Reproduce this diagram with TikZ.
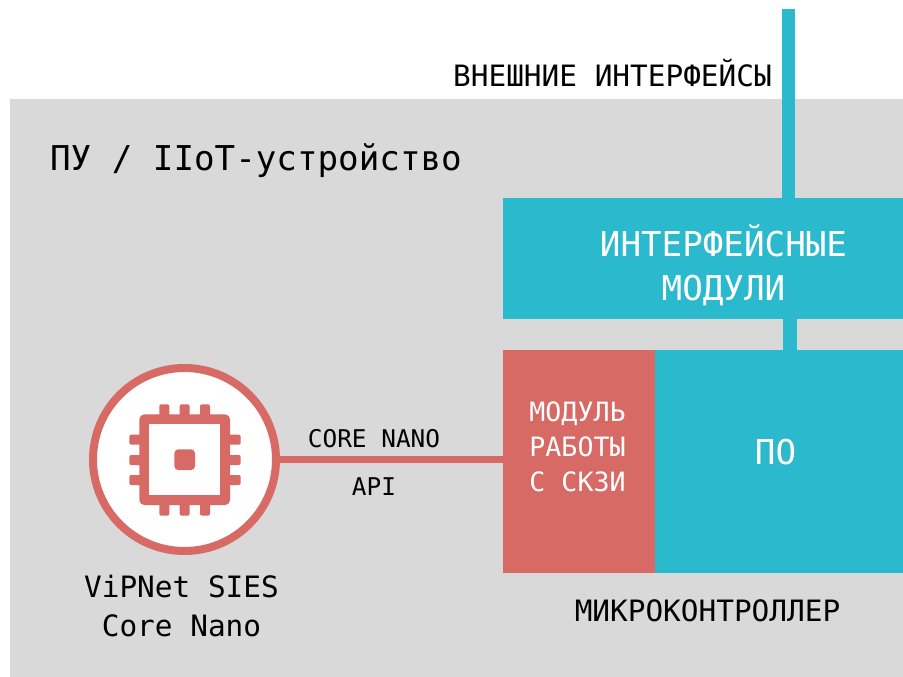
\documentclass[tikz,border=0pt]{standalone}
\usepackage{fontspec}
\setmonofont{DejaVu Sans Mono}
\definecolor{teal1}{HTML}{2BB9CD}
\definecolor{red1}{HTML}{D86A65}
\definecolor{grey1}{HTML}{D9D9D9}
\tikzset{
  x=1pt,y=-1pt,
  fs/.style 2 args={font=\fontsize{#1}{#2}\selectfont\ttfamily},
  box/.style={fill=#1,draw=none,anchor=north west,inner sep=0pt,outer sep=0pt},
  lbl/.style={inner sep=0pt,outer sep=0pt,align=center,text=#1},
  lbl/.default=black,
  tealline/.style={draw=teal1,line width=13.5pt},
  redline/.style={draw=red1,line width=7.5pt},
  pin/.style={fill=red1,draw=none,inner sep=0pt,outer sep=0pt}
}
\begin{document}
\begin{tikzpicture}
\useasboundingbox (0,0) rectangle (903,677);
\fill[white] (0,0) rectangle (903,677);
\node[box=grey1,minimum width=893pt,minimum height=578pt] (device) at (10,99) {};
\coordinate (ext) at (788.5,9);
\node[box=teal1,minimum width=400pt,minimum height=121pt] (intf) at (503,198) {};
\node[box=red1,minimum width=152pt,minimum height=223pt] (mod) at (503,350) {};
\node[box=teal1,minimum width=248pt,minimum height=223pt] (po) at (655,350) {};
\draw[tealline] (ext) -- (ext |- intf.north);
\coordinate (busa) at (790,319);
\draw[tealline] (busa) -- (busa |- po.north);
\node[circle,draw=red1,fill=white,line width=8pt,minimum size=183pt,inner sep=0pt,outer sep=4pt] (core) at (184.5,459.5) {};
\draw[redline] (core.east) -- (mod.west |- core.east);
% chip icon
\foreach \p in {164.3,184.7,205}{
  \fill[red1,rounded corners=2pt] (\p-5,404.3) rectangle (\p+5,425);
  \fill[red1,rounded corners=2pt] (\p-5,495) rectangle (\p+5,515.7);
}
\foreach \p in {439.7,460,480}{
  \fill[red1,rounded corners=2pt] (129.3,\p-5) rectangle (150,\p+5);
  \fill[red1,rounded corners=2pt] (220,\p-5) rectangle (240.7,\p+5);
}
\node[pin,rounded corners=5pt,minimum size=90.7pt] (chip) at (184.7,459.7) {};
\node[fill=white,draw=none,inner sep=0pt,outer sep=0pt,minimum size=71pt] (chipin) at (chip.center) {};
\node[pin,minimum size=20.7pt,rounded corners=4pt] (die) at (chip.center) {};
% labels
\node[lbl,fs={34.2}{40},anchor=base west] (tdev) at (50,170) {ПУ / IIoT-устройство};
\node[lbl,fs={29.4}{34},anchor=base] (text) at (612.5,87) {ВНЕШНИЕ ИНТЕРФЕЙСЫ};
\node[lbl=white,fs={34.2}{44}] (tint) at (723.5,265) {ИНТЕРФЕЙСНЫЕ\\МОДУЛИ};
\node[lbl=white,fs={26.6}{35}] (tmod) at (577.5,447) {МОДУЛЬ\\РАБОТЫ\\С СКЗИ};
\node[lbl=white,fs={34.2}{40}] (tpo) at (775.5,452) {ПО};
\node[lbl,fs={24.4}{28},anchor=base] (tapi1) at (374,447) {CORE NANO};
\node[lbl,fs={24.4}{28},anchor=base] (tapi2) at (374,495) {API};
\node[lbl,fs={29.4}{39}] (tcore) at (181.5,606) {ViPNet SIES\\Core Nano};
\node[lbl,fs={29.4}{34},anchor=base] (tmcu) at (707.5,621) {МИКРОКОНТРОЛЛЕР};
\end{tikzpicture}
\end{document}
